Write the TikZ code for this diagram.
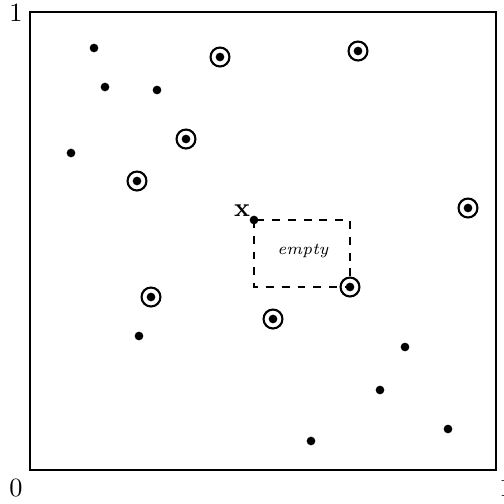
\documentclass[tikz,border=0pt]{standalone}
\usepackage{tikz}
\usetikzlibrary{positioning}

\begin{document}
\begin{tikzpicture}[
  x=0.38pt, y=-0.38pt,
  every node/.style={font=\normalsize},
  dot/.style={circle, fill=black, inner sep=0pt, minimum size=3.3pt},
  hit/.style={circle, fill=black, inner sep=0pt, minimum size=3.3pt,
    append after command={node[circle, draw, thick, minimum size=7.2pt, inner sep=0pt] at (\tikzlastnode.center) {}}},
  frame/.style={draw=black, line width=1pt},
  gap/.style={draw=black, dashed, thin}
]
\useasboundingbox (0,0) rectangle (504,504);

% --- UNIT SQUARE ---
\draw[frame] (30,12) rectangle (496,470);
\node (one-y) at (16,13) {1};
\node (zero) at (16,488) {0};
\node (one-x) at (506,488) {1};

% --- PLAIN POINTS ---
\node[dot] (p1) at (94,48) {};
\node[dot] (p2) at (105,87) {};
\node[dot] (p3) at (157,90) {};
\node[dot] (p4) at (71,153) {};
\node[dot] (p5) at (139,336) {};
\node[dot] (p6) at (405,347) {};
\node[dot] (p7) at (380,390) {};
\node[dot] (p8) at (311,441) {};
\node[dot] (p9) at (448,429) {};

% --- QUERY POINT ---
\node[dot] (x) at (254,220) {};
\node[above left=-1pt and -1pt of x, inner sep=1pt] (xlabel) {$\mathbf{x}$};

% --- CIRCLED POINTS ---
\node[hit] (h1) at (220,57) {};
\node[hit] (h2) at (358,51) {};
\node[hit] (h3) at (186,139) {};
\node[hit] (h4) at (137,181) {};
\node[hit] (h5) at (468,208) {};
\node[hit] (h6) at (350,287) {};
\node[hit] (h7) at (151,297) {};
\node[hit] (h8) at (273,319) {};

% --- EMPTY BOX ---
\draw[gap] (x.center) rectangle (h6.center);
\node (empty) at (303,251) {\fontsize{6.3}{7}\selectfont\textit{empty}};

\end{tikzpicture}
\end{document}
